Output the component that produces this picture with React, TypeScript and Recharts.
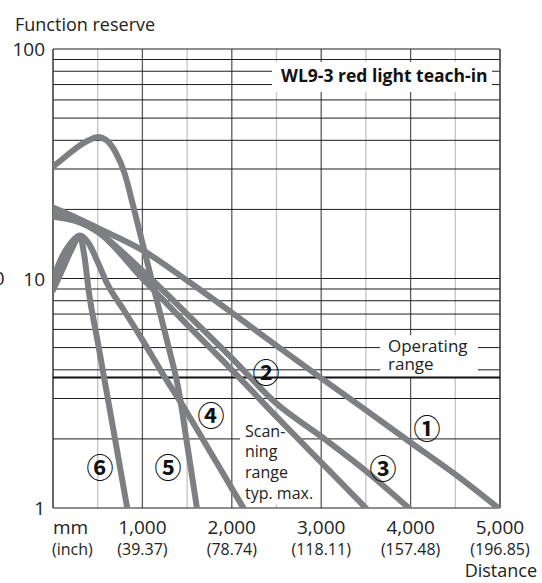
import React from 'react';
import { LineChart, Line, XAxis, YAxis, ReferenceLine } from 'recharts';

const FONT = '"Open Sans", "Liberation Sans", sans-serif';

// axis ticks and labels
const xTicks = [0, 1000, 2000, 3000, 4000, 5000];
const mmLabels = ['mm', '1,000', '2,000', '3,000', '4,000', '5,000'];
const inchLabels = ['(inch)', '(39.37)', '(78.74)', '(118.11)', '(157.48)', '(196.85)'];
const yTicks = [1, 10, 100];

// grid
const hGrid = [1, 2, 3, 4, 5, 6, 7, 8, 9, 10, 20, 30, 40, 50, 60, 70, 80, 90, 100];
const vMajor = [1000, 2000, 3000, 4000];
const vMinor = [500, 1500, 2500, 3500, 4500];
const vBorder = [0, 5000];
const operatingLimit = 3.7;

// curves: distance (mm) / function reserve
const dist1 = [0, 250, 500, 1000, 1500, 2000, 2500, 3000, 3500, 4000, 4500, 4980];
const reserve1 = [20.4, 18.5, 16.6, 13.3, 9.8, 7.1, 5.1, 3.68, 2.67, 1.93, 1.4, 1];

const dist2 = [0, 250, 500, 1000, 1500, 2000, 2500, 3000, 3500];
const reserve2 = [18.6, 17.8, 16.0, 10.0, 6.3, 4.0, 2.5, 1.58, 1];

const dist3 = [0, 500, 1000, 1500, 2000, 2500, 3000, 3500, 3980];
const reserve3 = [19.5, 16, 10.8, 7.0, 4.5, 2.85, 2.05, 1.45, 1];

const dist4 = [0, 100, 200, 300, 400, 500, 600, 800, 1000, 1200, 1500, 1800, 2130];
const reserve4 = [10, 12.4, 14.3, 15.4, 14.2, 11.8, 9.6, 7.2, 5.4, 4.0, 2.6, 1.65, 1];

const dist5 = [0, 100, 200, 300, 400, 500, 600, 700, 800, 900, 1000, 1100, 1200, 1300, 1400, 1500, 1610];
const reserve5 = [30.7, 33, 35.5, 38, 40, 41.4, 40, 35.5, 28.8, 20.5, 14.3, 10, 7, 4.9, 3.35, 1.9, 1];

const dist6 = [0, 100, 200, 300, 350, 400, 500, 600, 700, 830];
const reserve6 = [8.9, 10.8, 13.2, 15.2, 12.6, 8.8, 5.3, 3.2, 1.94, 1];

const toPoints = (d: number[], r: number[]) => d.map((x, i) => ({ x, y: r[i] }));

const curves = [
  toPoints(dist1, reserve1),
  toPoints(dist2, reserve2),
  toPoints(dist3, reserve3),
  toPoints(dist4, reserve4),
  toPoints(dist5, reserve5),
  toPoints(dist6, reserve6),
];

// label boxes that break the grid (data units)
const boxes = [
  { x1: 2450, x2: 4910, y1: 65, y2: 87.8 },
  { x1: 3658, x2: 4754, y1: 3.7, y2: 5.65 },
  { x1: 2092, x2: 2718, y1: 1.03, y2: 2.41 },
];

// split [lo, hi] leaving out the gaps
const cut = (lo: number, hi: number, gaps: number[][]) => {
  const out: number[][] = [];
  let start = lo;
  gaps.sort((a, b) => a[0] - b[0]).forEach(([a, b]) => {
    if (a > start) out.push([start, a]);
    start = Math.max(start, b);
  });
  if (start < hi) out.push([start, hi]);
  return out;
};

const hSegments = (v: number) =>
  cut(0, 5000, boxes.filter((b) => v > b.y1 && v < b.y2).map((b) => [b.x1, b.x2])).map(([a, b]) => [
    { x: a, y: v },
    { x: b, y: v },
  ]);

const vSegments = (v: number) =>
  cut(1, 100, boxes.filter((b) => v > b.x1 && v < b.x2).map((b) => [b.y1, b.y2])).map(([a, b]) => [
    { x: v, y: a },
    { x: v, y: b },
  ]);

const CURVE = '#7e7f83';

const XTick = (props: any) => {
  const { x, payload } = props;
  const i = xTicks.indexOf(payload.value);
  const anchor = i === 0 ? 'start' : 'middle';
  return (
    <g fontFamily={FONT} fill="#222">
      <text x={x} y={534} fontSize={19} textAnchor={anchor}>{mmLabels[i]}</text>
      <text x={i === 0 ? x - 1 : x} y={555} fontSize={16} textAnchor={anchor}>{inchLabels[i]}</text>
    </g>
  );
};

const YTick = (props: any) => {
  const { y, payload } = props;
  return (
    <text x={45} y={y + 7} fontSize={19} textAnchor="end" fontFamily={FONT} fill="#222">
      {payload.value}
    </text>
  );
};

const Circled = ({ x, y, t }: { x: number; y: number; t: string }) => (
  <text x={x} y={y + 10.5} fontSize={27} fontWeight={700} textAnchor="middle"
    fontFamily='"Noto Sans CJK JP", sans-serif' fill="#111">{t}</text>
);

export default function App() {
  return (
    <div style={{ position: 'absolute', left: 0, top: 0, width: 542, height: 583, background: '#fff' }}>
      <LineChart width={542} height={583} margin={{ top: 49, right: 42, bottom: 0, left: 0 }}>
        <XAxis type="number" dataKey="x" domain={[0, 5000]} ticks={xTicks} axisLine={false} tickLine={false}
          height={75} tick={<XTick />} allowDataOverflow />
        <YAxis type="number" dataKey="y" scale="log" domain={[1, 100]} ticks={yTicks} axisLine={false}
          tickLine={false} width={53} tick={<YTick />} allowDataOverflow />
        {vMinor.map((v) =>
          vSegments(v).map((s, j) => (
            <ReferenceLine key={'mi' + v + '-' + j} segment={s} stroke="#c4c4c4" strokeWidth={1.3} />
          ))
        )}
        {vMajor.map((v) =>
          vSegments(v).map((s, j) => (
            <ReferenceLine key={'ma' + v + '-' + j} segment={s} stroke="#5a5a5a" strokeWidth={1.3} />
          ))
        )}
        {hGrid.map((v) =>
          hSegments(v).map((s, j) => (
            <ReferenceLine key={'h' + v + '-' + j} segment={s} stroke="#1e1e1e" strokeWidth={1} />
          ))
        )}
        {vBorder.map((v) => (
          <ReferenceLine key={'b' + v} x={v} stroke="#333" strokeWidth={1.5} />
        ))}
        <ReferenceLine y={operatingLimit} stroke="#111" strokeWidth={2} />
        {curves.map((c, i) => (
          <Line key={i} data={c} dataKey="y" type="monotone" stroke={CURVE} strokeWidth={6}
            dot={false} isAnimationActive={false} strokeLinecap="round" />
        ))}
      </LineChart>
      <svg width={542} height={583} style={{ position: 'absolute', left: 0, top: 0, pointerEvents: 'none' }}>
        <g fontFamily={FONT} fill="#222" fontSize={18}>
          <text x={15} y={31}>Function reserve</text>
          <text x={537} y={577} textAnchor="end">Distance</text>
          <text x={4.5} y={285} fontSize={19} textAnchor="end">0</text>
          <text x={281} y={82} fontSize={17.5} fontWeight="bold" fill="#111">WL9-3 red light teach-in</text>
          <text x={388} y={352} fontSize={17}>Operating</text>
          <text x={388} y={370} fontSize={17}>range</text>
          <text x={245} y={437} fontSize={16}>Scan-</text>
          <text x={245} y={457} fontSize={16}>ning</text>
          <text x={245} y={478} fontSize={16}>range</text>
          <text x={245} y={499} fontSize={16}>typ. max.</text>
        </g>
        <Circled x={427} y={428} t="①" />
        <Circled x={266} y={372} t="②" />
        <Circled x={383} y={468} t="③" />
        <Circled x={211} y={415} t="④" />
        <Circled x={168} y={467} t="⑤" />
        <Circled x={100} y={467} t="⑥" />
      </svg>
    </div>
  );
}
